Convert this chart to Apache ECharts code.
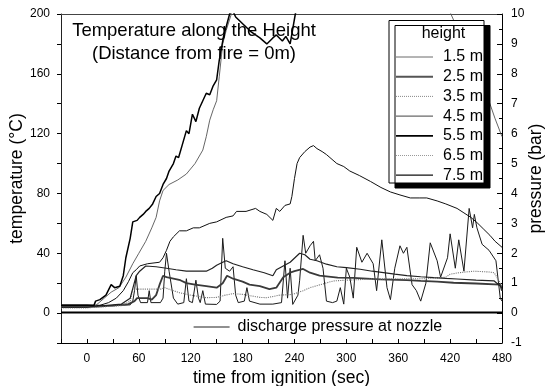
<!DOCTYPE html>
<html>
<head>
<meta charset="utf-8">
<script src="https://cdn.jsdelivr.net/npm/echarts@6/dist/echarts.min.js"></script>
<style>html,body{margin:0;padding:0;background:#fff}#c{width:547px;height:386px}</style>
</head>
<body>
<div id="c"></div>
<script>
// ---- data (time in sec, temperature in °C, pressure in bar) ----
const names = ['1.5 m','2.5 m','3.5 m','4.5 m','5.5 m','6.5 m','7.5 m'];
const xTickLabels = [0,60,120,180,240,300,360,420,480];
const yLeftTickLabels = [0,40,80,120,160,200];
const yRightTickLabels = [-1,0,1,2,3,4,5,6,7,8,9,10];

// 1.5 m (spiky)
const t15 = [-30,0,30,50,53,55,57,59,62,70,72,74,85,88,90,92,95,100,105,112,115,118,122,126,129,131,134,137,150,154,157,160,165,169,172,175,182,185,188,200,215,225,229,232,235,238,244,246,250,253,258,262,264,269,273,277,284,289,293,297,300,304,308,312,318,324,331,335,341,347,351,356,362,366,370,376,381,386,392,397,405,409,417,420,426,430,436,442,446,448,451,457,465,473,478,480];
const v15 = [5,5,5,5.5,8,15,25,12,7,7,15,7,7,10,28,40,28,10,6,7,23,8,7,22,10,7,15,6,5.8,8,50,30,28,31,12,7,8,17,8,6,6,7,35,10,30,5.8,12,22,52,40,45,48,35,39,30,8,7,8,17,6,30,24,10,44,34,40,33,15,49,17,9,30,45,40,44,19,15,8,20,47,35,24,37,53,30,49,28,70,57,66,57,46,42,35,10,8];
// 2.5 m
const t25 = [-30,0,30,48,55,58,70,75,80,84,88,92,100,108,115,125,138,150,157,162,169,180,188,200,211,219,227,235,240,250,258,269,290,308,339,370,386,405,424,450,478,480];
const v25 = [4,4,5,6,8,10,10,9,12,19,25,24,23,22,20,19,18,17,20,25,23,21,19,18,16,17,24,27,28,29.5,27,25,23.7,23.5,22.6,22,21.5,21,20.3,19.8,19,15];
// 3.5 m (dotted)
const t35 = [-30,0,40,50,53,60,75,85,90,95,107,120,138,150,160,169,180,200,208,223,238,250,258,270,285,300,331,360,390,405,415,420,430,447,465,471,476,480];
const v35 = [3.5,3.5,5,8,16,16,16,16,17,16,13.6,12,10.3,10.5,12,13,12.5,10.5,10.3,12,12.5,15,17,19,21.5,22,22.8,23,23,23.5,24,26,27,28,27.5,27,22,18];
// 4.5 m
const t45 = [-30,0,20,40,50,57,61,68,80,92,103,115,128,138,145,150,157,161,169,180,192,205,215,219,227,235,246,252,258,266,277,289,300,316,330,343,356,370,386,401,415,428,450,471,480];
const v45 = [5.5,5.5,5,6,10,25,28,31.5,31,30,29,28,28,28,30,32,34,35,33,31,29,27,25,29,31.5,34,40,39,36,35,32.7,31,30.4,29.3,28,27,26,25,24.3,23.7,23.2,22.8,22,21.5,17];
// 5.5 m (peak ~112)
const t55 = [-30,0,14,25,34,42,48,53,57,61,70,84,88,92,96,100,107,115,123,130,142,150,161,169,173,184,195,200,208,215,219,223,229,235,237,240,243,246,252,258,262,266,272,277,281,289,297,304,315,328,340,351,362,374,385,393,405,415,428,436,444,452,459,466,472,480];
const v55 = [4,4,5,7,10,15,21,27,29,31.5,33,34,37,42,48,51,55,55,57,57,60,61,64,65,68,68,70,68,66,62,70,68,72,73,78,90,100,104,108,111,112,110,108,106,104,100,98,95,92,88,84,81,79,77,77,77,75,73,70,67,64,60,56,52,48,44];
// 6.5 m (steep, smooth)
const t65 = [-30,0,10,14,20,28,37,45,53,60,68,75,80,84,88,95,105,115,125,134,138,142,146,150,153,157,161,167,172,180,300,400,417,424,440,455,466,472,480];
const v65 = [4.5,4.5,5,7,10,14,17,24,33,40,48,57,64,75,82,86,89,93,100,109,118,129,136,142,158,180,189,200,215,225,240,230,205,196,175,155,140,130,118];
// 7.5 m (steep, jagged)
const t75 = [-30,0,8,10,15,22,28,32,38,42,45,50,53,58,61,65,68,72,76,80,84,88,92,95,100,103,106,110,115,118,122,126,130,134,138,142,146,150,153,158,165,168,172,190,200,208,215,219,226,230,235,241,250,300,400,480];
const v75 = [5,5,5,8,9,12,19,17,18,25,37,50,61,62,64,66,68,70,73,78,80,86,90,95,100,105,104,112,122,120,133,128,137,142,147,146,152,156,169,185,200,203,198,188,184,180,184,186,182,185,180,200,220,240,240,240];
// discharge pressure at nozzle (bar)
const tDis = [-30,100,200,300,400,480];
const vDis = [0.02,0.02,0.02,0.02,0.02,0.02];

const zip = (a, b) => a.map((x, i) => [x, b[i]]);

const styles = {
  '1.5 m': {color:'#1a1a1a', width:1.0, type:'solid'},
  '2.5 m': {color:'#3a3a3a', width:1.8, type:'solid'},
  '3.5 m': {color:'#777777', width:1.1, type:'dotted'},
  '4.5 m': {color:'#222222', width:1.2, type:'solid'},
  '5.5 m': {color:'#111111', width:1.0, type:'solid'},
  '6.5 m': {color:'#555555', width:0.9, type:'solid'},
  '7.5 m': {color:'#000000', width:1.5, type:'solid'}
};
// legend sample styles as drawn in the key
const legendStyles = {
  '1.5 m': {color:'#444444', width:0.8, type:'solid'},
  '2.5 m': {color:'#555555', width:2.0, type:'solid'},
  '3.5 m': {color:'#888888', width:1.0, type:'dotted'},
  '4.5 m': {color:'#444444', width:1.0, type:'solid'},
  '5.5 m': {color:'#000000', width:1.7, type:'solid'},
  '6.5 m': {color:'#999999', width:1.0, type:'dotted'},
  '7.5 m': {color:'#111111', width:1.3, type:'solid'}
};
const dataSets = {
  '1.5 m': zip(t15, v15), '2.5 m': zip(t25, v25), '3.5 m': zip(t35, v35),
  '4.5 m': zip(t45, v45), '5.5 m': zip(t55, v55), '6.5 m': zip(t65, v65),
  '7.5 m': zip(t75, v75)
};

const FONT = 'Liberation Sans, Arial, sans-serif';
const series = names.map(n => ({
  name: n, type: 'line', xAxisIndex: 0, yAxisIndex: 0,
  data: dataSets[n], symbol: 'none', showSymbol: false, clip: true,
  lineStyle: {color: styles[n].color, width: styles[n].width, type: styles[n].type},
  itemStyle: {color: styles[n].color}, z: 2
}));
series.push({
  name: 'discharge pressure at nozzle', type: 'line', xAxisIndex: 0, yAxisIndex: 1,
  data: zip(tDis, vDis), symbol: 'none', showSymbol: false,
  lineStyle: {color: '#000', width: 2}, itemStyle: {color: '#000'}, z: 2
});

const chart = echarts.init(document.getElementById('c'), null, {renderer: 'canvas'});
chart.setOption({
  animation: false,
  backgroundColor: '#fff',
  textStyle: {fontFamily: FONT},
  title: {
    text: 'Temperature along the Height\n(Distance from fire = 0m)',
    left: 194, top: 20, padding: 0, textAlign: 'center',
    textStyle: {fontFamily: FONT, fontSize: 18.5, fontWeight: 'normal', color: '#000', lineHeight: 22.5}
  },
  grid: {left: 61, right: 45, top: 14, bottom: 43, containLabel: false, outerBoundsMode: 'none'},
  xAxis: [{
    type: 'value', min: -30, max: 480, interval: 30, position: 'bottom',
    name: 'time from ignition (sec)', nameLocation: 'middle', nameGap: 26, nameMoveOverlap: false,
    nameTextStyle: {fontFamily: FONT, fontSize: 17.5, color: '#000'},
    axisLine: {show: true, onZero: false, lineStyle: {color: '#000', width: 1}},
    axisTick: {show: true, inside: true, length: 4, lineStyle: {color: '#000'}},
    axisLabel: {margin: 10, fontFamily: FONT, fontSize: 12, color: '#000',
      formatter: v => xTickLabels.indexOf(v) >= 0 ? String(v) : ''},
    splitLine: {show: false}
  }, {
    type: 'value', min: -30, max: 480, position: 'top',
    axisLine: {show: true, onZero: false, lineStyle: {color: '#444', width: 1}},
    axisTick: {show: false}, axisLabel: {show: false}, splitLine: {show: false}
  }],
  yAxis: [{
    type: 'value', min: -20, max: 200, interval: 20, position: 'left',
    name: 'temperature (°C)', nameLocation: 'middle', nameGap: 35, nameMoveOverlap: false,
    nameTextStyle: {fontFamily: FONT, fontSize: 17.5, color: '#000'},
    axisLine: {show: true, onZero: false, lineStyle: {color: '#222', width: 1}},
    axisTick: {show: true, inside: false, length: 4, lineStyle: {color: '#000'}},
    axisLabel: {margin: 11, fontFamily: FONT, fontSize: 12, color: '#000',
      formatter: v => yLeftTickLabels.indexOf(v) >= 0 ? String(v) : ''},
    splitLine: {show: false}
  }, {
    type: 'value', min: -1, max: 10, interval: 1, position: 'right',
    name: 'pressure (bar)', nameLocation: 'middle', nameGap: 25, nameMoveOverlap: false,
    nameTextStyle: {fontFamily: FONT, fontSize: 17.5, color: '#000'},
    axisLine: {show: true, onZero: false, lineStyle: {color: '#000', width: 1}},
    axisTick: {show: true, inside: true, length: 5, lineStyle: {color: '#000'}},
    minorTick: {show: true, splitNumber: 2, length: 3, lineStyle: {color: '#000'}},
    axisLabel: {margin: 9, fontFamily: FONT, fontSize: 12, color: '#000',
      formatter: v => yRightTickLabels.indexOf(v) >= 0 ? String(v) : ''},
    splitLine: {show: false}
  }],
  legend: [{
    data: names.map(n => ({name: n, lineStyle: {color: legendStyles[n].color, width: legendStyles[n].width, type: legendStyles[n].type}})),
    orient: 'vertical', left: 395, top: 49, padding: 0,
    itemWidth: 37, itemHeight: 14, itemGap: 3.7, z: 5,
    itemStyle: {opacity: 0},
    textStyle: {fontFamily: FONT, fontSize: 16, color: '#000', padding: [0,0,0,5]},
    selectedMode: false
  }, {
    data: [{name: 'discharge pressure at nozzle', lineStyle: {color: '#222', width: 1.2}}],
    orient: 'horizontal', left: 193, top: 319, padding: 0,
    itemWidth: 36, itemHeight: 14, z: 5,
    itemStyle: {opacity: 0},
    textStyle: {fontFamily: FONT, fontSize: 16, color: '#000', padding: [0,0,0,3]},
    selectedMode: false
  }],
  graphic: [{
    type: 'rect', z: 3,
    shape: {x: 389, y: 20.5, width: 95, height: 162.5},
    style: {fill: '#fff', stroke: '#000', lineWidth: 1,
      shadowColor: '#000', shadowBlur: 0, shadowOffsetX: 6, shadowOffsetY: 5}
  }, {
    type: 'text', z: 4, x: 443.5, y: 33.5,
    style: {text: 'height', font: '16px ' + FONT, fill: '#000', align: 'center', verticalAlign: 'middle'}
  }],
  series: series
});
</script>
</body>
</html>
